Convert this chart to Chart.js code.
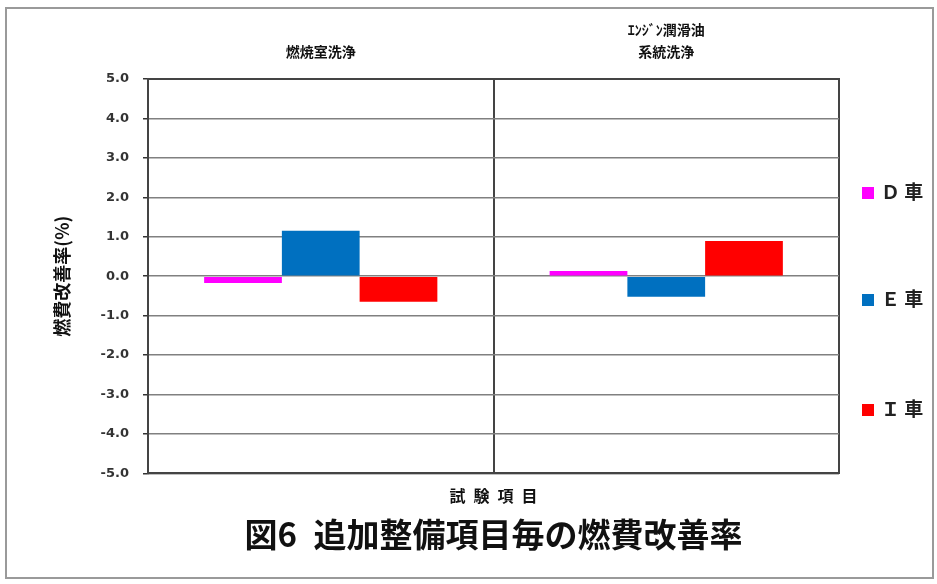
<!DOCTYPE html>
<html lang="ja">
<head>
<meta charset="utf-8">
<title>図6 追加整備項目毎の燃費改善率</title>
<script src="https://cdn.jsdelivr.net/npm/chart.js@4.4.1/dist/chart.umd.min.js"></script>
<style>
  html, body { margin: 0; padding: 0; background: #fff; }
  #wrap { position: relative; width: 937px; height: 584px; }
  #frame {
    position: absolute; left: 5px; top: 7px; width: 929px; height: 572px;
    border: 2px solid #9a9a9a; box-sizing: border-box; pointer-events: none;
  }
  #legend { position: absolute; left: 862px; top: 0; font: bold 19px "Noto Sans CJK JP", sans-serif; color: #222; }
  #legend .item { position: absolute; left: 0; white-space: nowrap; line-height: 20px; }
  #legend .box { display: inline-block; width: 12px; height: 12px; vertical-align: 0px; margin-right: 7px; }
</style>
</head>
<body>
<div id="wrap">
  <canvas id="chart" width="937" height="584"></canvas>
  <div id="frame"></div>
  <div id="legend"></div>
</div>
<script>
// test items (x categories) and fuel economy improvement per vehicle, %
const items = [['燃焼室洗浄'], ['ｴﾝｼﾞﾝ潤滑油', '系統洗浄']];
const vehicles = ['Ｄ 車', 'Ｅ 車', 'Ｉ 車'];
const carD = [-0.17, 0.13];
const carE = [1.15, -0.52];
const carI = [-0.65, 0.89];
const yTicks = [5, 4, 3, 2, 1, 0, -1, -2, -3, -4, -5];

const colors = ['#ff00ff', '#0070c0', '#ff0000'];
const jp = '"Noto Sans CJK JP", sans-serif';

const ctx = document.getElementById('chart').getContext('2d');
const chart = new Chart(ctx, {
  type: 'bar',
  data: {
    labels: items,
    datasets: [carD, carE, carI].map((vals, i) => ({
      label: vehicles[i],
      data: vals,
      backgroundColor: colors[i],
      borderWidth: 0,
      barPercentage: 1.0,
      categoryPercentage: 0.675,
      xAxisID: 'x'
    }))
  },
  options: {
    responsive: false,
    animation: false,
    layout: { padding: { top: 10, left: 45, right: 98, bottom: 24 } },
    plugins: {
      legend: { display: false },
      tooltip: { enabled: false },
      title: {
        display: true,
        position: 'bottom',
        fullSize: false,
        text: '図6\u2002追加整備項目毎の燃費改善率',
        color: '#111',
        font: { family: jp, size: 33, weight: 'bold' },
        padding: { top: 3, bottom: 6 }
      }
    },
    scales: {
      x: {
        position: 'top',
        grid: { color: '#444', lineWidth: 2, drawTicks: false, offset: true },
        border: { color: '#444', width: 2 },
        ticks: { color: '#111', font: { family: jp, size: 14, weight: 'bold', lineHeight: 1.6 }, padding: 16 },
        afterFit: s => { s.height = 69; }
      },
      x2: {
        position: 'bottom',
        type: 'category',
        labels: items.map(() => ''),
        grid: { display: false },
        border: { color: '#444', width: 2 },
        ticks: { display: false },
        title: {
          display: true,
          text: '試\u2002験\u2002項\u2002目',
          color: '#111',
          font: { family: jp, size: 16, weight: 'bold' },
          padding: { top: 0, bottom: 6 }
        },
        afterFit: s => { s.height = 38; }
      },
      y: {
        min: -5,
        max: 5,
        afterBuildTicks: s => { s.ticks = yTicks.map(v => ({ value: v })); },
        grid: { color: '#808080', lineWidth: 1.5, tickLength: 5, tickColor: '#333' },
        border: { color: '#444', width: 2 },
        ticks: {
          color: '#333',
          padding: 14,
          font: { family: '"DejaVu Sans", sans-serif', size: 13, weight: 'bold' },
          callback: v => v.toFixed(1)
        },
        title: {
          display: true,
          text: '燃費改善率(%)',
          color: '#111',
          font: { family: jp, size: 18, weight: 'bold' },
          padding: { top: 6, bottom: 0 }
        },
        afterFit: s => { s.width = 103; }
      }
    }
  }
});

// legend entries on the right, spaced down the plot
const legendTops = [181, 288, 398];
const legend = document.getElementById('legend');
chart.data.datasets.forEach((ds, i) => {
  const row = document.createElement('div');
  row.className = 'item';
  row.style.top = legendTops[i] + 'px';
  const box = document.createElement('span');
  box.className = 'box';
  box.style.background = ds.backgroundColor;
  row.appendChild(box);
  row.appendChild(document.createTextNode(ds.label));
  legend.appendChild(row);
});
</script>
</body>
</html>
